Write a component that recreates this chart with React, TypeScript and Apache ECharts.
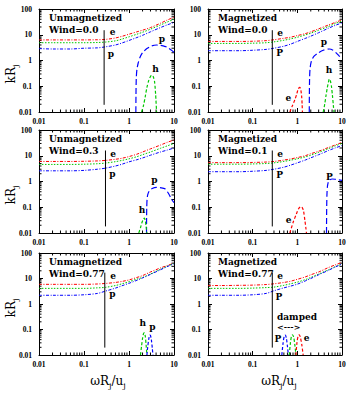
import React, { useEffect, useRef } from 'react';
import * as echarts from 'echarts';

// ---------- data ----------
const X_TOP = [0.01, 0.02, 0.05, 0.1, 0.2, 0.3, 0.5, 0.7, 1, 1.5, 2, 3, 5, 7, 10];

const X_TICKS = [0.01, 0.1, 1, 10];
const X_LABELS = ['0.01', '0.1', '1', '10'];
const Y_TICKS = [0.01, 0.1, 1, 10, 100];
const Y_LABELS = ['0.01', '0.1', '1', '10', '100'];

const TITLES = ['Unmagnetized', 'Magnetized', 'Unmagnetized', 'Magnetized', 'Unmagnetized', 'Magnetized'];
const WINDS = ['Wind=0.0', 'Wind=0.0', 'Wind=0.3', 'Wind=0.1', 'Wind=0.77', 'Wind=0.77'];

// Panel 1
const p1E = [6.3, 6.3, 6.3, 6.3, 6.4, 6.6, 7.5, 8.7, 10.5, 13, 15, 19, 28, 37, 48];
const p1H = [4.9, 4.9, 4.9, 4.9, 5.0, 5.2, 5.8, 6.8, 8.3, 10.5, 12.5, 16.5, 24, 31, 40];
const p1P = [2.9, 2.8, 2.8, 3.0, 3.1, 3.4, 4.0, 4.8, 6.0, 7.8, 9.5, 13, 19, 24, 30];
const p1DomePX = [1.42, 1.43, 1.45, 1.5, 1.6, 1.75, 2.0, 2.5, 3.2, 4.1, 5.0, 6.0, 7.0, 8.5, 10];
const p1DomePY = [0.01, 0.05, 0.2, 0.45, 0.8, 1.3, 2.0, 2.9, 3.7, 4.0, 3.9, 3.6, 3.3, 2.6, 2.1];
const p1DomeHX = [1.9, 2.1, 2.3, 2.5, 2.75, 3.0, 3.2, 3.45, 3.7, 3.9, 4.1];
const p1DomeHY = [0.01, 0.018, 0.04, 0.09, 0.17, 0.24, 0.27, 0.24, 0.15, 0.05, 0.01];

// Panel 2
const p2E = [5.5, 5.5, 5.5, 5.6, 5.9, 6.4, 7.3, 8.0, 9.3, 11, 13, 17, 24, 30, 38];
const p2H = [4.6, 4.6, 4.6, 4.7, 4.9, 5.3, 6.1, 6.9, 8.0, 9.8, 11.5, 15, 21, 27, 34];
const p2P = [2.4, 2.4, 2.4, 2.5, 2.7, 3.0, 3.6, 4.3, 5.5, 7.2, 8.8, 12, 18, 23, 29];
const p2DomePX = [1.85, 1.86, 1.88, 1.92, 2.0, 2.1, 2.4, 2.9, 3.8, 5.2, 6.3, 7.6, 9, 10];
const p2DomePY = [0.01, 0.05, 0.2, 0.45, 0.75, 1.05, 1.5, 1.95, 2.5, 2.8, 2.5, 1.9, 1.4, 1.2];
const p2DomeHX = [3.8, 4.1, 4.4, 4.7, 5.0, 5.2, 5.5, 5.8, 6.1, 6.4, 6.6];
const p2DomeHY = [0.01, 0.02, 0.045, 0.09, 0.15, 0.19, 0.16, 0.1, 0.045, 0.018, 0.01];
const p2DomeEX = [0.68, 0.78, 0.88, 0.97, 1.05, 1.14, 1.2, 1.25, 1.28, 1.3];
const p2DomeEY = [0.01, 0.018, 0.03, 0.05, 0.08, 0.09, 0.07, 0.04, 0.02, 0.01];

// Panel 3
const p3E = [6.0, 6.0, 6.0, 6.1, 6.3, 6.6, 7.3, 8.0, 9.3, 11.5, 14, 18.5, 26, 33, 41];
const p3H = [4.6, 4.6, 4.6, 4.7, 4.9, 5.2, 5.9, 6.6, 7.6, 9.2, 11, 14, 19.5, 24, 30];
const p3P = [2.6, 2.6, 2.6, 2.7, 3.0, 3.3, 4.0, 4.7, 5.8, 7.0, 8.2, 10.5, 14, 16.5, 20];
const p3DomePX = [2.45, 2.46, 2.48, 2.52, 2.6, 2.8, 3.2, 4.1, 5.2, 6.3, 7.5, 8.9, 10];
const p3DomePY = [0.01, 0.04, 0.1, 0.2, 0.3, 0.42, 0.52, 0.59, 0.57, 0.52, 0.35, 0.2, 0.15];
const p3DomeHX = [1.65, 1.8, 1.95, 2.1, 2.2, 2.3, 2.4, 2.5];
const p3DomeHY = [0.01, 0.016, 0.026, 0.035, 0.038, 0.03, 0.018, 0.01];

// Panel 4
const p4E = [5.4, 5.4, 5.4, 5.5, 5.7, 6.0, 6.8, 7.5, 8.5, 10, 12, 15, 21, 26, 33];
const p4H = [4.7, 4.7, 4.7, 4.8, 5.0, 5.3, 6.0, 6.7, 7.6, 9, 10.5, 13.5, 19, 24, 30];
const p4P = [2.4, 2.4, 2.4, 2.5, 2.7, 3.0, 3.6, 4.3, 5.3, 6.8, 8.3, 11, 16, 20, 25];
const p4DomePX = [4.5, 4.52, 4.55, 4.6, 4.7, 4.9, 5.3, 6, 7, 8.5, 10];
const p4DomePY = [0.01, 0.04, 0.12, 0.3, 0.6, 0.9, 1.15, 1.25, 1.22, 1.15, 1.1];
const p4DomeEX = [0.68, 0.8, 0.96, 1.08, 1.2, 1.3, 1.38, 1.48, 1.55, 1.6];
const p4DomeEY = [0.01, 0.025, 0.057, 0.09, 0.105, 0.095, 0.07, 0.03, 0.016, 0.01];

// Panel 5
const p5E = [5.9, 5.9, 5.9, 5.9, 6.1, 6.4, 7.0, 7.7, 8.8, 11, 13, 18, 26, 32, 40];
const p5H = [4.1, 4.1, 4.1, 4.1, 4.3, 4.5, 5.3, 6.2, 7.5, 9.5, 11, 15, 23, 30, 39];
const p5P = [2.2, 2.2, 2.2, 2.3, 2.6, 3.2, 4.2, 5.2, 6.5, 8.5, 10.5, 14.5, 22, 29, 38];
const p5DomeHX = [1.8, 1.9, 2.0, 2.1, 2.2, 2.3, 2.4, 2.5];
const p5DomeHY = [0.01, 0.022, 0.045, 0.068, 0.075, 0.055, 0.025, 0.01];
const p5DomePX = [2.5, 2.6, 2.75, 2.9, 3.0, 3.15, 3.3, 3.4];
const p5DomePY = [0.01, 0.02, 0.042, 0.06, 0.058, 0.038, 0.018, 0.01];

// Panel 6
const p6E = [5.3, 5.3, 5.4, 5.5, 5.8, 6.2, 7.0, 7.8, 9.3, 11.5, 14, 18, 27, 34, 43];
const p6H = [4.1, 4.1, 4.1, 4.2, 4.4, 4.6, 5.4, 6.2, 7.2, 9, 11, 15, 22, 29, 37];
const p6P = [2.2, 2.2, 2.2, 2.3, 2.6, 3.3, 4.3, 5.0, 6.0, 8, 10, 14, 21, 28, 37];
const p6DomePX = [0.45, 0.48, 0.51, 0.54, 0.57, 0.6, 0.63];
const p6DomePY = [0.01, 0.03, 0.055, 0.06, 0.045, 0.022, 0.01];
const p6DomeHX = [0.66, 0.7, 0.74, 0.78, 0.83, 0.88, 0.93];
const p6DomeHY = [0.01, 0.03, 0.055, 0.062, 0.05, 0.025, 0.01];
const p6DomeEX = [0.93, 0.98, 1.04, 1.1, 1.17, 1.26, 1.35];
const p6DomeEY = [0.01, 0.03, 0.055, 0.062, 0.05, 0.025, 0.01];

// vertical marker lines
const VLINE_X = [0.28, 0.275, 0.3, 0.275, 0.29, 0.275];
const VLINE_Y0 = [0.019, 0.019, 0.018, 0.018, 0.0195, 0.0195];
const VLINE_Y1 = [15, 15, 16, 16, 17, 17];

const MINOR = [2, 3, 4, 5, 6, 7, 8, 9];

// ---------- styling / layout ----------
const RED = '#ff0000';
const GREEN = '#00c800';
const BLUE = '#0000ff';
const SERIF = '"DejaVu Serif", serif';
const TICKFONT = '"Liberation Serif", serif';

const BOX = [
  { l: 39, t: 9, w: 135, h: 103 },
  { l: 208, t: 9, w: 134, h: 103 },
  { l: 39, t: 130, w: 135, h: 103 },
  { l: 208, t: 130, w: 134, h: 103 },
  { l: 39, t: 253, w: 135, h: 102 },
  { l: 208, t: 253, w: 134, h: 102 },
];

const zip = (xs: number[], ys: number[]) => xs.map((x, i) => [x, ys[i]]);

type Dome = { x: number[]; y: number[]; c: string; dash: number[] };
const PANELS = [
  { e: p1E, h: p1H, p: p1P, domes: [
    { x: p1DomePX, y: p1DomePY, c: BLUE, dash: [6, 3] },
    { x: p1DomeHX, y: p1DomeHY, c: GREEN, dash: [3, 2] },
  ] as Dome[] },
  { e: p2E, h: p2H, p: p2P, domes: [
    { x: p2DomePX, y: p2DomePY, c: BLUE, dash: [6, 3] },
    { x: p2DomeHX, y: p2DomeHY, c: GREEN, dash: [3, 2] },
    { x: p2DomeEX, y: p2DomeEY, c: RED, dash: [3, 2] },
  ] as Dome[] },
  { e: p3E, h: p3H, p: p3P, domes: [
    { x: p3DomePX, y: p3DomePY, c: BLUE, dash: [6, 3] },
    { x: p3DomeHX, y: p3DomeHY, c: GREEN, dash: [3, 2] },
  ] as Dome[] },
  { e: p4E, h: p4H, p: p4P, domes: [
    { x: p4DomePX, y: p4DomePY, c: BLUE, dash: [6, 3] },
    { x: p4DomeEX, y: p4DomeEY, c: RED, dash: [3, 2] },
  ] as Dome[] },
  { e: p5E, h: p5H, p: p5P, domes: [
    { x: p5DomeHX, y: p5DomeHY, c: GREEN, dash: [3, 2] },
    { x: p5DomePX, y: p5DomePY, c: BLUE, dash: [3, 2] },
  ] as Dome[] },
  { e: p6E, h: p6H, p: p6P, domes: [
    { x: p6DomePX, y: p6DomePY, c: BLUE, dash: [3, 2] },
    { x: p6DomeHX, y: p6DomeHY, c: GREEN, dash: [3, 2] },
    { x: p6DomeEX, y: p6DomeEY, c: RED, dash: [3, 2] },
  ] as Dome[] },
];

// annotation labels: [text, x, y] (pixel layout)
const ANNOT: [string, number, number][] = [
  ['e', 112.5, 32], ['p', 111, 54], ['p', 162, 39], ['h', 155.5, 69],
  ['e', 280, 32.5], ['P', 279.7, 52.7], ['p', 324, 41.7], ['h', 329, 70], ['e', 288.3, 98],
  ['e', 113, 154], ['p', 112.5, 173.7], ['p', 154.5, 180], ['h', 142, 210],
  ['e', 280, 154], ['P', 279.7, 175], ['P', 329.3, 176.7], ['e', 288.7, 219.5],
  ['e', 113, 276], ['p', 112.5, 293.7], ['h', 142.7, 323.3], ['p', 152.5, 327],
  ['e', 280, 275.5], ['P', 279, 297], ['P', 278, 338.7], ['e', 306.7, 338],
];

const labelFor = (ticks: number[], labels: string[]) => (v: number) => {
  const i = ticks.findIndex((t) => Math.abs(Math.log10(t) - Math.log10(v)) < 1e-6);
  return i >= 0 ? labels[i] : '';
};

function buildOption() {
  const grid: any[] = [];
  const xAxis: any[] = [];
  const yAxis: any[] = [];
  const series: any[] = [];
  const graphic: any[] = [];

  const axisLine = { show: true, onZero: false, lineStyle: { color: '#000', width: 1 } };
  const axisTick = { show: true, inside: true, length: 4, lineStyle: { color: '#000', width: 1 } };
  const lab = { fontFamily: TICKFONT, fontWeight: 'bold', fontSize: 7.5, color: '#000', showMinLabel: true, showMaxLabel: true };

  const minorData: number[][] = [];
  [0.01, 0.1, 1].forEach((d) => MINOR.forEach((m) => minorData.push([m * d, 1])));
  [0.01, 0.1, 1, 10].forEach((d) => MINOR.forEach((m) => minorData.push([m * d, 2])));

  PANELS.forEach((pn, i) => {
    const b = BOX[i];
    grid.push({ left: b.l, top: b.t, width: b.w, height: b.h, show: false });
    const xb = { type: 'log', logBase: 10, min: 0.01, max: 10, gridIndex: i, axisLine, axisTick, splitLine: { show: false } };
    const yb = { type: 'log', logBase: 10, min: 0.01, max: 100, gridIndex: i, axisLine, axisTick, splitLine: { show: false } };
    xAxis.push({ ...xb, position: 'bottom', axisLabel: { ...lab, margin: 5, formatter: labelFor(X_TICKS, X_LABELS) } });
    xAxis.push({ ...xb, position: 'top', axisLabel: { show: false } });
    yAxis.push({ ...yb, position: 'left', axisLabel: { ...lab, margin: 7, formatter: labelFor(Y_TICKS, Y_LABELS) } });
    yAxis.push({ ...yb, position: 'right', axisLabel: { show: false } });

    const xi = 2 * i;
    const base = { type: 'line', xAxisIndex: xi, yAxisIndex: xi, symbol: 'none', silent: true };
    series.push({ ...base, data: zip(X_TOP, pn.e), smooth: 0.3, lineStyle: { color: RED, width: 1, type: [3, 1.5, 1, 1.5] } });
    series.push({ ...base, data: zip(X_TOP, pn.h), smooth: 0.3, lineStyle: { color: GREEN, width: 1, type: [1.5, 1.5] } });
    series.push({ ...base, data: zip(X_TOP, pn.p), smooth: 0.3, lineStyle: { color: BLUE, width: 1, type: [3, 1.5, 1, 1.5] } });
    series.push({ ...base, data: [[VLINE_X[i], VLINE_Y0[i]], [VLINE_X[i], VLINE_Y1[i]]], lineStyle: { color: '#000', width: 1 } });
    pn.domes.forEach((d) => {
      series.push({ ...base, data: zip(d.x, d.y), smooth: 0.25, lineStyle: { color: d.c, width: 1.2, type: d.dash } });
    });
    series.push({
      type: 'custom', xAxisIndex: xi, yAxisIndex: xi, silent: true, clip: false, data: minorData,
      renderItem: (params: any, api: any) => {
        const v = api.value(0);
        const k = api.value(1);
        const st = { stroke: '#000', lineWidth: 1 };
        if (k === 1) {
          const a = api.coord([v, 0.01]);
          const c = api.coord([v, 100]);
          return { type: 'group', children: [
            { type: 'line', shape: { x1: a[0], y1: a[1], x2: a[0], y2: a[1] - 2.5 }, style: st },
            { type: 'line', shape: { x1: c[0], y1: c[1], x2: c[0], y2: c[1] + 2.5 }, style: st },
          ] };
        }
        const a = api.coord([0.01, v]);
        const c = api.coord([10, v]);
        return { type: 'group', children: [
          { type: 'line', shape: { x1: a[0], y1: a[1], x2: a[0] + 2.5, y2: a[1] }, style: st },
          { type: 'line', shape: { x1: c[0], y1: c[1], x2: c[0] - 2.5, y2: c[1] }, style: st },
        ] };
      },
    });

    graphic.push({ type: 'text', left: b.l + 10, top: b.t + 4, style: { text: TITLES[i], font: `bold 9px ${SERIF}`, fill: '#000' } });
    graphic.push({ type: 'text', left: b.l + 10, top: b.t + 16, style: { text: WINDS[i], font: `bold 9px ${SERIF}`, fill: '#000' } });
  });

  ANNOT.forEach(([t, x, y]) => {
    graphic.push({ type: 'text', x, y, style: { text: t, font: `bold 9px ${SERIF}`, fill: '#000', textAlign: 'center', textVerticalAlign: 'middle' } });
  });
  graphic.push({ type: 'text', x: 277, y: 316.7, style: { text: 'damped', font: `bold 9px ${SERIF}`, fill: '#000', textAlign: 'left', textVerticalAlign: 'middle' } });
  graphic.push({ type: 'text', x: 277, y: 326.7, style: { text: '<--->', font: `bold 8px ${SERIF}`, fill: '#000', textAlign: 'left', textVerticalAlign: 'middle' } });

  const rich = {
    m: { fontFamily: SERIF, fontSize: 12, fill: '#000', color: '#000' },
    s: { fontFamily: SERIF, fontSize: 8, color: '#000', padding: [8, 0, 0, 0] },
  };
  [74, 195, 308].forEach((cy) => {
    graphic.push({ type: 'text', x: 11, y: cy, rotation: Math.PI / 2, style: { text: '{m|kR}{s|j}', rich, textAlign: 'center', textVerticalAlign: 'middle', fill: '#000' } });
  });
  [108, 279].forEach((cx) => {
    graphic.push({ type: 'text', x: cx, y: 381, style: { text: '{m|ωR}{s|j}{m|/u}{s|j}', rich, textAlign: 'center', textVerticalAlign: 'middle', fill: '#000' } });
  });

  return { animation: false, backgroundColor: '#fff', grid, xAxis, yAxis, series, graphic };
}

export default function App() {
  const ref = useRef<HTMLDivElement>(null);
  useEffect(() => {
    const chart = echarts.init(ref.current!, null, { renderer: 'svg' });
    chart.setOption(buildOption() as any);
    return () => chart.dispose();
  }, []);
  return <div ref={ref} style={{ position: 'absolute', left: 0, top: 0, width: 352, height: 394 }} />;
}
